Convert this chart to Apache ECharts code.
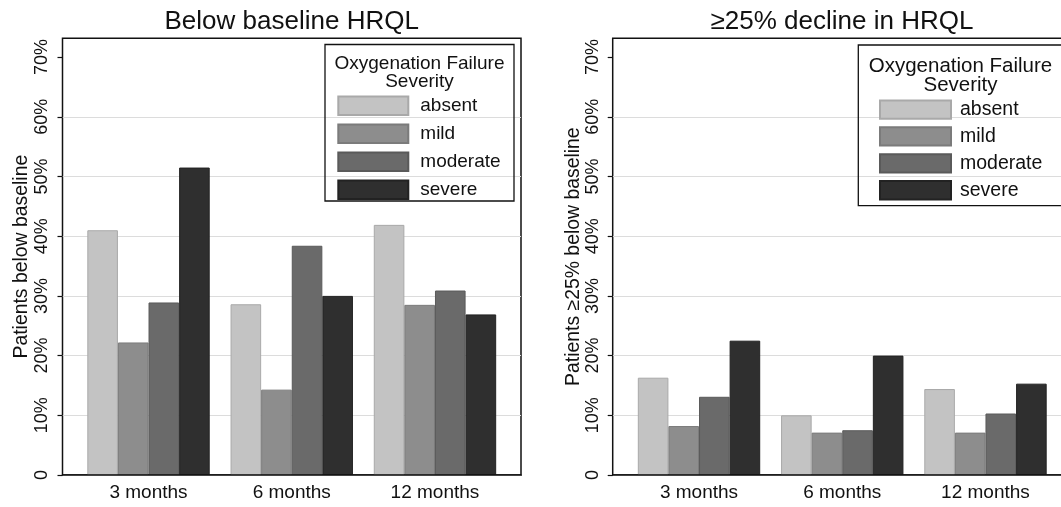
<!DOCTYPE html>
<html>
<head>
<meta charset="utf-8">
<script src="https://cdn.jsdelivr.net/npm/echarts@6/dist/echarts.min.js"></script>
<style>
html,body{margin:0;padding:0;background:#fff;}
#chart{width:1061px;height:507px;}
</style>
</head>
<body>
<div id="chart"></div>
<script>
// ---- data ----
const categories = ['3 months', '6 months', '12 months'];
const severities = ['absent', 'mild', 'moderate', 'severe'];
const yTicks = [0, 10, 20, 30, 40, 50, 60, 70];

// Panel 1: Below baseline HRQL (%)
const belowAbsent   = [41.0, 28.6, 41.9];
const belowMild     = [22.2, 14.3, 28.5];
const belowModerate = [28.9, 38.4, 30.9];
const belowSevere   = [51.5, 30.0, 26.9];

// Panel 2: >=25% decline in HRQL (%)
const declAbsent   = [16.3, 10.0, 14.4];
const declMild     = [8.2, 7.1, 7.1];
const declModerate = [13.1, 7.5, 10.3];
const declSevere   = [22.5, 20.0, 15.3];

// ---- styles ----
const FONT = '"Liberation Sans", Arial, Helvetica, sans-serif';
const INK = '#111';
const fills   = ['#c3c3c3', '#8d8d8d', '#6a6a6a', '#2f2f2f'];
const borders = ['#a9a9a9', '#7b7b7b', '#5a5a5a', '#222222'];
const yMax = 73.15;
const gridColors = ['#dcdcdc','#dcdcdc','#dcdcdc','#dcdcdc','#dcdcdc','#dcdcdc','#dcdcdc','rgba(0,0,0,0)'];

function yLabelAxis(gridIndex, name, nameGap, margin) {
  return {
    gridIndex: gridIndex, type: 'value', min: 0, max: yMax, interval: 10,
    name: name, nameLocation: 'middle', nameGap: nameGap,
    nameTextStyle: {fontSize: 19.4, color: INK, fontFamily: FONT},
    axisLine: {show: false},
    axisTick: {show: true, length: 5, lineStyle: {color: INK, width: 1.2}, customValues: yTicks},
    axisLabel: {
      show: true, rotate: 90, fontSize: 18, color: INK, fontFamily: FONT, margin: margin,
      customValues: yTicks,
      formatter: function (v) { return v === 0 ? '0' : v + '%'; }
    },
    splitLine: {show: true, lineStyle: {color: gridColors, width: 1.2}}
  };
}
function hiddenY(gridIndex) {
  return {gridIndex: gridIndex, type: 'value', min: 0, max: yMax, show: false, splitLine: {show: false}};
}
function boxX(gridIndex) {
  return {
    gridIndex: gridIndex, type: 'value', min: 0, max: 1, z: 10,
    axisLine: {show: true, lineStyle: {color: INK, width: 1.5}},
    axisTick: {show: false}, axisLabel: {show: false}, splitLine: {show: false}
  };
}
function catX(gridIndex) {
  return {
    gridIndex: gridIndex, type: 'category', data: categories,
    axisLine: {show: false}, axisTick: {show: false},
    axisLabel: {fontSize: 19, color: INK, fontFamily: FONT, margin: 8.5}
  };
}
function barSeries(name, idx, data, axisIndex) {
  return {
    name: name, type: 'bar', data: data,
    xAxisIndex: axisIndex, yAxisIndex: axisIndex,
    barWidth: 30.6, barGap: '0%',
    itemStyle: {color: fills[idx], borderColor: borders[idx], borderWidth: 1},
    emphasis: {disabled: true}
  };
}

const panel1 = [belowAbsent, belowMild, belowModerate, belowSevere];
const panel2 = [declAbsent, declMild, declModerate, declSevere];
const series = [];
severities.forEach(function (s, i) { series.push(barSeries(s, i, panel1[i], 1)); });
severities.forEach(function (s, i) { series.push(barSeries(s, i, panel2[i], 3)); });

const option = {
  animation: false,
  backgroundColor: '#fff',
  textStyle: {fontFamily: FONT, color: INK},
  title: [
    {text: 'Below baseline HRQL', left: 291.7, top: 9, textAlign: 'center', padding: 0,
     textStyle: {fontSize: 26, fontWeight: 'normal', color: INK, fontFamily: FONT}},
    {text: '≥25% decline in HRQL', left: 842, top: 9, textAlign: 'center', padding: 0,
     textStyle: {fontSize: 26, fontWeight: 'normal', color: INK, fontFamily: FONT}}
  ],
  grid: [
    {left: 62.5, top: 38.3, width: 458.5, height: 436.7, show: true, borderColor: INK, borderWidth: 1.5,
     backgroundColor: 'rgba(0,0,0,0)', outerBoundsMode: 'none', containLabel: false},
    {left: 76.9, top: 38.3, width: 429.7, height: 436.7, outerBoundsMode: 'none', containLabel: false},
    {left: 612.7, top: 38.3, width: 458.8, height: 436.7, show: true, borderColor: INK, borderWidth: 1.5,
     backgroundColor: 'rgba(0,0,0,0)', outerBoundsMode: 'none', containLabel: false},
    {left: 627.4, top: 38.3, width: 429.7, height: 436.7, outerBoundsMode: 'none', containLabel: false}
  ],
  xAxis: [boxX(0), catX(1), boxX(2), catX(3)],
  yAxis: [
    yLabelAxis(0, 'Patients below baseline', 31.5, 11.5),
    hiddenY(1),
    yLabelAxis(2, 'Patients ≥25% below baseline', 30, 10.7),
    hiddenY(3)
  ],
  legend: [
    {orient: 'vertical', left: 337.3, top: 95.5, padding: 0, itemWidth: 70, itemHeight: 18.6, itemGap: 7.4,
     icon: 'rect', data: severities, selectedMode: false,
     textStyle: {fontSize: 19, lineHeight: 19, color: INK, fontFamily: FONT, padding: [0, 0, 0, 7]}},
    {orient: 'vertical', left: 879, top: 99.4, padding: 0, itemWidth: 71, itemHeight: 18.3, itemGap: 6.6,
     icon: 'rect', data: severities, selectedMode: false,
     textStyle: {fontSize: 19.5, lineHeight: 19.5, color: INK, fontFamily: FONT, padding: [0, 0, 0, 4]}}
  ],
  graphic: [
    {type: 'rect', shape: {x: 325, y: 44.5, width: 189, height: 156.5}, z: 50,
     style: {fill: 'rgba(0,0,0,0)', stroke: INK, lineWidth: 1.3}},
    {type: 'text', x: 419.5, y: 63.3, z: 50,
     style: {text: 'Oxygenation Failure', fontSize: 19, fontFamily: FONT, fill: INK, textAlign: 'center', textVerticalAlign: 'middle'}},
    {type: 'text', x: 419.5, y: 81.7, z: 50,
     style: {text: 'Severity', fontSize: 19, fontFamily: FONT, fill: INK, textAlign: 'center', textVerticalAlign: 'middle'}},
    {type: 'rect', shape: {x: 858.3, y: 45, width: 205, height: 160.7}, z: 50,
     style: {fill: 'rgba(0,0,0,0)', stroke: INK, lineWidth: 1.3}},
    {type: 'text', x: 960.5, y: 66, z: 50,
     style: {text: 'Oxygenation Failure', fontSize: 20.5, fontFamily: FONT, fill: INK, textAlign: 'center', textVerticalAlign: 'middle'}},
    {type: 'text', x: 960.5, y: 85, z: 50,
     style: {text: 'Severity', fontSize: 20.5, fontFamily: FONT, fill: INK, textAlign: 'center', textVerticalAlign: 'middle'}}
  ],
  series: series
};

const chart = echarts.init(document.getElementById('chart'), null, {renderer: 'canvas'});
chart.setOption(option);
</script>
</body>
</html>
